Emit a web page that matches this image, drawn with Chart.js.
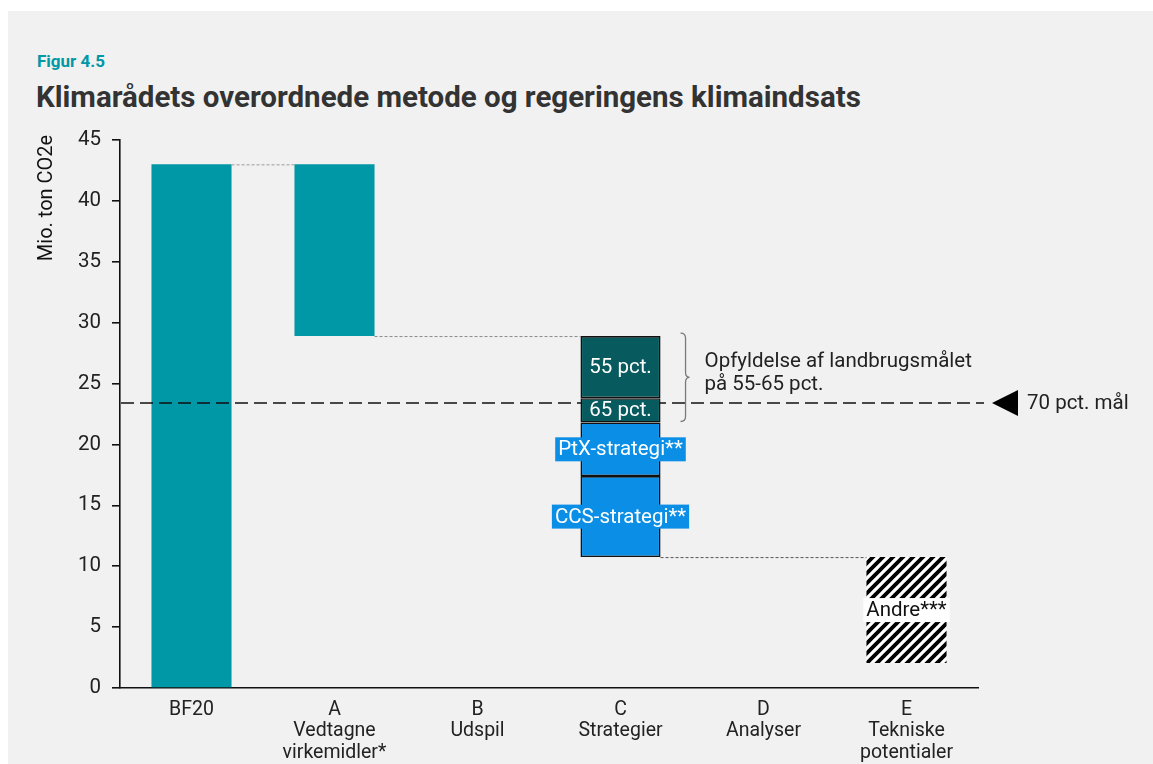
<!DOCTYPE html>
<html>
<head>
<meta charset="utf-8">
<script src="https://cdn.jsdelivr.net/npm/chart.js@4.4.1/dist/chart.umd.min.js"></script>
<style>
  html, body { margin: 0; padding: 0; background: #ffffff; width: 1153px; height: 764px; overflow: hidden; }
  #panel { position: absolute; left: 8px; top: 11px; right: 0; bottom: 0; background: #f1f1f1; }
  #fig { position: absolute; left: 37px; top: 53px; font: bold 17px Roboto, sans-serif; line-height: 17px; color: #0098a6; white-space: nowrap; }
  #title { position: absolute; left: 36px; top: 83px; font: bold 29.5px Roboto, sans-serif; line-height: 29.5px; color: #333333; white-space: nowrap; }
  #c { position: absolute; left: 0; top: 0; }
</style>
</head>
<body>
<div id="panel"></div>
<div id="fig">Figur 4.5</div>
<div id="title">Klimarådets overordnede metode og regeringens klimaindsats</div>
<canvas id="c" width="1153" height="764"></canvas>
<script>
// ---------- data ----------
const categories = [
  ['BF20'],
  ['A', 'Vedtagne', 'virkemidler*'],
  ['B', 'Udspil'],
  ['C', 'Strategier'],
  ['D', 'Analyser'],
  ['E', 'Tekniske', 'potentialer']
];
const yTicks = [0, 5, 10, 15, 20, 25, 30, 35, 40, 45];
const mainLow  = [0, 28.9, null, null, null, null];   // BF20 and A (teal)
const mainHigh = [43, 43, null, null, null, null];
const strategyLabels = ['55 pct.', '65 pct.', 'PtX-strategi**', 'CCS-strategi**'];
const strategyLow  = [23.8, 21.8, 17.4, 10.75];
const strategyHigh = [28.9, 23.8, 21.8, 17.4];
const otherLabel = 'Andre***';
const otherLow = 2.05;
const otherHigh = 10.75;
const target70 = 23.4;
const targetLabel = '70 pct. mål';
const braceText = ['Opfyldelse af landbrugsmålet', 'på 55-65 pct.'];
const yTitle = 'Mio. ton CO2e';

// ---------- styles ----------
const TEAL = '#0097a6';
const DARK = '#075a5d';
const BLUE = '#0b8ee6';
const stratColors = [DARK, DARK, BLUE, BLUE];
const FONT = 'Roboto, sans-serif';
const LBL = 20.5;

function hatch() {
  const p = document.createElement('canvas');
  p.width = 10; p.height = 10;
  const g = p.getContext('2d');
  g.fillStyle = '#ffffff';
  g.fillRect(0, 0, 10, 10);
  g.strokeStyle = '#000000';
  g.lineWidth = 3.8;
  g.beginPath();
  g.moveTo(-5, 15); g.lineTo(15, -5);
  g.moveTo(-15, 15); g.lineTo(5, -5);
  g.moveTo(5, 15); g.lineTo(25, -5);
  g.stroke();
  return document.getElementById('c').getContext('2d').createPattern(p, 'repeat');
}

const mk = (lo, hi) => lo.map((v, i) => (v === null ? null : [v, hi[i]]));
const only = (idx, val) => categories.map((_, i) => (i === idx ? val : null));

const datasets = [
  { label: 'main', data: mk(mainLow, mainHigh), backgroundColor: TEAL, borderWidth: 0, order: 3 }
];
strategyLabels.forEach((lab, k) => {
  datasets.push({ label: lab, data: only(3, [strategyLow[k], strategyHigh[k]]),
    backgroundColor: stratColors[k], borderColor: '#111111', borderWidth: 1.6, borderSkipped: false, order: 1 });
});
datasets.push({ label: otherLabel, data: only(5, [otherLow, otherHigh]), backgroundColor: hatch(), borderWidth: 0, order: 1 });

function barOf(chart, dsIndex, i) { return chart.getDatasetMeta(dsIndex).data[i]; }

function boxLabel(ctx, text, x, y, bg, fg) {
  ctx.font = LBL + 'px ' + FONT;
  const w = ctx.measureText(text).width;
  ctx.fillStyle = bg;
  ctx.fillRect(x - w / 2 - 3, y - 12, w + 6, 24);
  ctx.fillStyle = fg;
  ctx.textAlign = 'center'; ctx.textBaseline = 'middle';
  ctx.fillText(text, x, y + 1);
}

const overlay = {
  id: 'overlay',
  afterDatasetDraw(chart, args) {
    if (args.index !== 0) return;
    const ctx = chart.ctx, ys = chart.scales.y, a = chart.chartArea;
    const y = ys.getPixelForValue(target70);
    ctx.save();
    ctx.strokeStyle = '#111111'; ctx.lineWidth = 1.6; ctx.setLineDash([13, 6]);
    ctx.beginPath(); ctx.moveTo(a.left + 1, y); ctx.lineTo(a.right + 6, y); ctx.stroke();
    ctx.restore();
  },
  afterDatasetsDraw(chart) {
    const ctx = chart.ctx, ys = chart.scales.y;
    ctx.save();
    // connectors
    const b0 = barOf(chart, 0, 0), b1 = barOf(chart, 0, 1);
    const cTop = barOf(chart, 1, 3), cBot = barOf(chart, 4, 3), e = barOf(chart, 5, 5);
    ctx.lineWidth = 1; ctx.setLineDash([3, 2]);
    const seg = (x1, x2, y, col) => { ctx.strokeStyle = col; ctx.beginPath(); ctx.moveTo(x1, y); ctx.lineTo(x2, y); ctx.stroke(); };
    seg(b0.x + b0.width / 2, b1.x - b1.width / 2, ys.getPixelForValue(mainHigh[0]) + 0.5, '#9a9a9a');
    seg(b1.x + b1.width / 2, cTop.x - cTop.width / 2, ys.getPixelForValue(mainLow[1]) + 0.5, '#8a8a8a');
    seg(cBot.x + cBot.width / 2, e.x - e.width / 2, ys.getPixelForValue(otherHigh) + 0.5, '#555555');
    ctx.setLineDash([]);

    // labels in C stack
    for (let k = 0; k < strategyLabels.length; k++) {
      const b = barOf(chart, k + 1, 3);
      const cy = (b.y + b.base) / 2;
      if (k < 2) {
        ctx.font = LBL + 'px ' + FONT; ctx.fillStyle = '#ffffff';
        ctx.textAlign = 'center'; ctx.textBaseline = 'middle';
        ctx.fillText(strategyLabels[k], b.x, cy + 1);
      } else {
        boxLabel(ctx, strategyLabels[k], b.x, cy, BLUE, '#ffffff');
      }
    }
    // Andre label
    boxLabel(ctx, otherLabel, e.x, (e.y + e.base) / 2, '#ffffff', '#111111');

    // brace
    const bx = cTop.x + cTop.width / 2 + 20;
    const top = ys.getPixelForValue(strategyHigh[0]) - 3;
    const bot = ys.getPixelForValue(strategyLow[1]) - 1;
    const mid = (top + bot) / 2;
    ctx.strokeStyle = '#7a7a7a'; ctx.lineWidth = 1.3;
    ctx.beginPath();
    ctx.moveTo(bx, top);
    ctx.quadraticCurveTo(bx + 5, top, bx + 5, top + 5);
    ctx.lineTo(bx + 5, mid - 5);
    ctx.quadraticCurveTo(bx + 5, mid, bx + 9, mid);
    ctx.quadraticCurveTo(bx + 5, mid, bx + 5, mid + 5);
    ctx.lineTo(bx + 5, bot - 5);
    ctx.quadraticCurveTo(bx + 5, bot, bx, bot);
    ctx.stroke();
    ctx.font = LBL + 'px ' + FONT; ctx.fillStyle = '#222222';
    ctx.textAlign = 'left'; ctx.textBaseline = 'middle';
    ctx.fillText(braceText[0], bx + 24, mid - 15);
    ctx.fillText(braceText[1], bx + 24, mid + 8);

    // target marker
    const ty = ys.getPixelForValue(target70);
    const tx = chart.chartArea.right + 14;
    ctx.fillStyle = '#000000';
    ctx.beginPath(); ctx.moveTo(tx, ty); ctx.lineTo(tx + 26, ty - 13); ctx.lineTo(tx + 26, ty + 13); ctx.closePath(); ctx.fill();
    ctx.fillStyle = '#222222';
    ctx.fillText(targetLabel, tx + 35, ty + 1);

    // y title
    ctx.save();
    ctx.translate(47, 198);
    ctx.rotate(-Math.PI / 2);
    ctx.font = '20px ' + FONT; ctx.fillStyle = '#111111';
    ctx.textAlign = 'center'; ctx.textBaseline = 'middle';
    ctx.fillText(yTitle, 0, 0);
    ctx.restore();
    ctx.restore();
  }
};

new Chart(document.getElementById('c'), {
  type: 'bar',
  data: { labels: categories, datasets },
  options: {
    responsive: false,
    animation: false,
    devicePixelRatio: 1,
    layout: { padding: { left: 0, right: 175, top: 140, bottom: 0 } },
    datasets: { bar: { grouped: false, categoryPercentage: 1, barPercentage: 0.56 } },
    plugins: { legend: { display: false }, tooltip: { enabled: false } },
    scales: {
      x: {
        grid: { display: false },
        border: { display: true, color: '#111111', width: 1.6 },
        ticks: { color: '#222222', font: { family: FONT, size: 19.5, lineHeight: 1.1 }, padding: 3, maxRotation: 0, autoSkip: false },
        afterFit: (s) => { s.height = 76; }
      },
      y: {
        min: 0, max: 45,
        afterBuildTicks: (s) => { s.ticks = yTicks.map(v => ({ value: v })); },
        grid: { drawOnChartArea: false, drawTicks: true, tickLength: 8, color: '#111111', lineWidth: 1.6 },
        border: { display: true, color: '#111111', width: 1.6 },
        ticks: { color: '#222222', font: { family: FONT, size: 20.5 }, padding: 11 },
        afterFit: (s) => { s.width = 120; }
      }
    }
  },
  plugins: [overlay]
});
</script>
</body>
</html>
